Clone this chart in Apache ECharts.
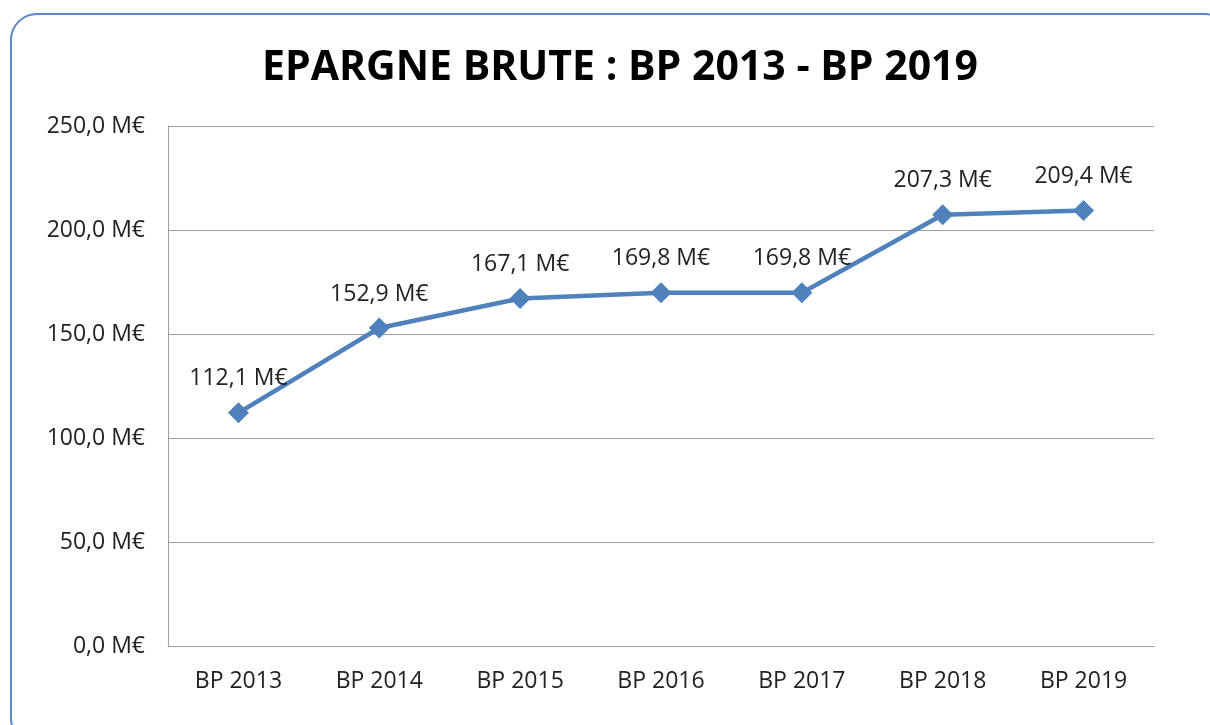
<!DOCTYPE html>
<html>
<head>
<meta charset="utf-8">
<script src="https://cdn.jsdelivr.net/npm/echarts@6/dist/echarts.min.js"></script>
<style>
  html, body { margin: 0; padding: 0; background: #fff; }
  #chart { width: 1210px; height: 725px; }
</style>
</head>
<body>
<div id="chart"></div>
<script>
// données
var categories = ['BP 2013', 'BP 2014', 'BP 2015', 'BP 2016', 'BP 2017', 'BP 2018', 'BP 2019'];
var epargneBrute = [112.1, 152.9, 167.1, 169.8, 169.8, 207.3, 209.4];
var titre = 'EPARGNE BRUTE : BP 2013 - BP 2019';

function fmt(v) {
    return v.toFixed(1).replace('.', ',') + ' M€';
}

var myChart = echarts.init(document.getElementById('chart'));
var option = {
    backgroundColor: '#fff',
    animation: false,
    textStyle: { fontFamily: 'Open Sans' },
    graphic: [{
        type: 'rect',
        shape: { x: 11, y: 14, width: 1220, height: 730, r: 26 },
        style: { fill: 'none', stroke: '#5b87c4', lineWidth: 2 },
        z: 0
    }],
    title: {
        text: titre,
        left: 615,
        textAlign: 'center',
        top: 43,
        textStyle: { fontSize: 41, fontWeight: 'bold', color: '#000', fontFamily: 'Open Sans' }
    },
    grid: { left: 168, right: 56, top: 126, bottom: 79, containLabel: false },
    xAxis: {
        type: 'category',
        data: categories,
        boundaryGap: true,
        axisLine: { lineStyle: { color: '#a0a0a0', width: 1 } },
        axisTick: { show: false },
        axisLabel: { color: '#222', fontSize: 23, margin: 24 }
    },
    yAxis: {
        type: 'value',
        min: 0,
        max: 250,
        interval: 50,
        axisLine: { show: true, lineStyle: { color: '#a0a0a0' } },
        axisTick: { show: false },
        splitLine: { lineStyle: { color: '#a0a0a0', width: 1 } },
        axisLabel: {
            color: '#222',
            fontSize: 23,
            margin: 23,
            formatter: function (v) { return fmt(v); }
        }
    },
    series: [{
        type: 'line',
        data: epargneBrute,
        symbol: 'diamond',
        symbolSize: 21,
        lineStyle: { color: '#4f81bd', width: 4.5 },
        itemStyle: { color: '#4f81bd' },
        label: {
            show: true,
            position: 'top',
            distance: 12,
            color: '#222',
            fontSize: 23,
            formatter: function (p) { return fmt(p.value); }
        }
    }]
};
myChart.setOption(option);
</script>
</body>
</html>
